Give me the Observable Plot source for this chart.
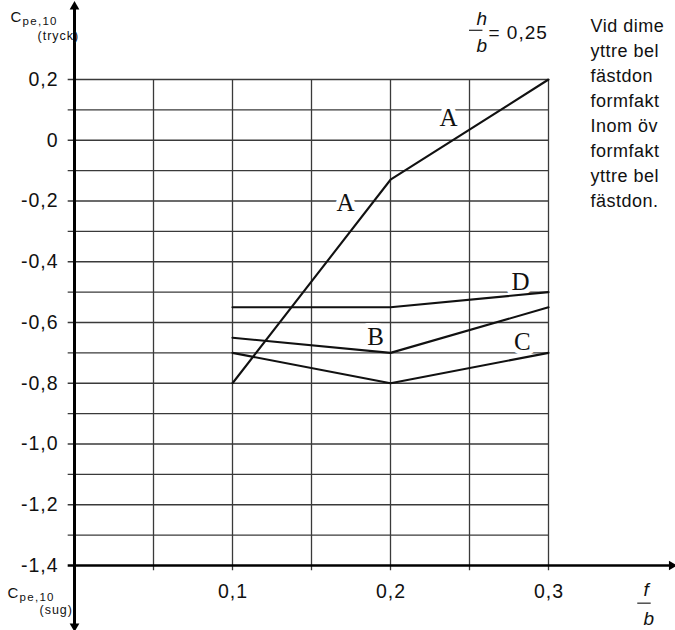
<!DOCTYPE html>
<html><head><meta charset="utf-8">
<script src="https://cdn.jsdelivr.net/npm/d3@7"></script>
<script src="https://cdn.jsdelivr.net/npm/@observablehq/plot@0.6"></script>
<style>
body{margin:0;background:#fff}
#chart svg{background:#fff}
</style>
</head><body><div id="chart"></div>
<script>
// f/b values
const fb = [0.1, 0.2, 0.3];
// Cpe,10 values per curve
const curveA = [-0.80, -0.13, 0.20];
const curveB = [-0.65, -0.70, -0.55];
const curveC = [-0.70, -0.80, -0.70];
const curveD = [-0.55, -0.55, -0.50];
const curveNames = ["A", "B", "C", "D"];

const yTicks = [0.2, 0, -0.2, -0.4, -0.6, -0.8, -1.0, -1.2, -1.4];
const yTickLabels = ["0,2", "0", "-0,2", "-0,4", "-0,6", "-0,8", "-1,0", "-1,2", "-1,4"];
const xTicks = [0.1, 0.2, 0.3];
const xTickLabels = ["0,1", "0,2", "0,3"];
const yGrid = [0.2, 0.1, 0, -0.1, -0.2, -0.3, -0.4, -0.5, -0.6, -0.7, -0.8, -0.9, -1.0, -1.1, -1.2, -1.3];
const xGrid = [0.05, 0.1, 0.15, 0.2, 0.25, 0.3];

// curve label annotations
const labelText = ["A", "A", "B", "C", "D"];
const labelX = [0.2367, 0.1715, 0.1905, 0.2835, 0.2823];
const labelY = [0.072, -0.207, -0.649, -0.665, -0.4675];

const noteLines = ["Vid dime", "yttre bel", "fästdon", "formfakt", "Inom öv", "formfakt", "yttre bel", "fästdon."];
const ratioText = "= 0,25";

// axis extents
const xMin = 0, xMax = 0.3, yMin = -1.4, yMax = 0.2;
const xArrowEnd = 0.378, yArrowTop = 0.44, yArrowBottom = -1.6;
// fraction bars (h/b above the grid, f/b beside the x axis)
const hbBar = {x1: 0.2500, x2: 0.2585, y: 0.362};
const fbBar = {x1: 0.3565, x2: 0.3650, y: -1.524};

const rows = [];
[curveA, curveB, curveC, curveD].forEach((s, k) => s.forEach((v, i) => rows.push({fb: fb[i], value: v, curve: curveNames[k]})));
const labels = labelText.map((t, i) => ({t, x: labelX[i], y: labelY[i]}));

const ML = 74, MT = 79;
const sans = "'Liberation Sans', Arial, sans-serif";
const serif = "'Liberation Serif', 'Times New Roman', serif";
function at(px, py, text, o = {}) {
  return Plot.text([text], {frameAnchor: "top-left", lineAnchor: "middle", dx: px - ML, dy: py - MT, fontFamily: sans, fill: "#111", ...o});
}

const plot = Plot.plot({
  width: 675, height: 630,
  marginLeft: ML, marginRight: 127, marginTop: MT, marginBottom: 65,
  x: {domain: [xMin, xMax]},
  y: {domain: [yMin, yMax]},
  axis: null,
  marks: [
    Plot.ruleY(yGrid, {x1: -0.004, x2: xMax, stroke: "#3a3a3a", strokeWidth: 1.3}),
    Plot.ruleX(xGrid, {y1: yMin - 0.017, y2: yMax, stroke: "#3a3a3a", strokeWidth: 1.3}),
    Plot.text(labels, {x: "x", y: "y", text: "t", fontFamily: serif, fontSize: 25, fill: "#111", stroke: "white", strokeWidth: 10, paintOrder: "stroke"}),
    Plot.line(rows, {x: "fb", y: "value", z: "curve", stroke: "#111", strokeWidth: 2.1}),
    // axes
    Plot.ruleY([yMin], {x1: -0.004, x2: xArrowEnd, stroke: "#000", strokeWidth: 2.6}),
    Plot.ruleX([xMin], {y1: yArrowBottom, y2: yArrowTop, stroke: "#000", strokeWidth: 3}),
    Plot.dot([0], {x: xMin, y: yArrowTop, symbol: "triangle", r: 3.6, fill: "#000", rotate: 0}),
    Plot.dot([0], {x: xMin, y: yArrowBottom, symbol: "triangle", r: 3.6, fill: "#000", rotate: 180}),
    Plot.dot([0], {x: xArrowEnd, y: yMin, symbol: "triangle", r: 3.6, fill: "#000", rotate: 90}),
    // tick labels
    Plot.text(yTicks, {x: xMin, y: d => d, text: (d, i) => yTickLabels[i], dx: -16, textAnchor: "end", fontFamily: sans, fontSize: 19.5, fill: "#111"}),
    Plot.text(xTicks, {x: d => d, y: yMin, text: (d, i) => xTickLabels[i], dx: 0.5, dy: 26, fontFamily: sans, fontSize: 19.5, fill: "#111"}),
    // axis titles
    at(10, 17, "C", {textAnchor: "start", fontSize: 15}),
    at(22, 21, "pe,10", {textAnchor: "start", fontSize: 11.5}),
    at(37, 35, "(tryck)", {fontSize: 12.5}),
    at(7, 593, "C", {textAnchor: "start", fontSize: 15}),
    at(19, 597, "pe,10", {textAnchor: "start", fontSize: 11.5}),
    at(39, 609, "(sug)", {fontSize: 12.5}),
    // f/b
    at(643, 589, "f", {fontSize: 19, fontStyle: "italic"}),
    Plot.ruleY([fbBar.y], {x1: fbBar.x1, x2: fbBar.x2, stroke: "#222", strokeWidth: 1.2}),
    at(643, 618, "b", {fontSize: 19, fontStyle: "italic"}),
    // h/b = 0,25
    at(476, 18, "h", {fontSize: 19, fontStyle: "italic"}),
    Plot.ruleY([hbBar.y], {x1: hbBar.x1, x2: hbBar.x2, stroke: "#222", strokeWidth: 1.2}),
    at(476, 45, "b", {fontSize: 19, fontStyle: "italic"}),
    at(488, 32, ratioText, {textAnchor: "start", fontSize: 19}),
    // side note
    at(590, 111, noteLines.join("\n"), {textAnchor: "start", fontSize: 18, lineHeight: 25 / 18})
  ]
});
// the scanned original uses a slightly wide sans face: add letter spacing
d3.select(plot).selectAll("text").each(function () {
  const t = this.textContent;
  if (this.querySelector("tspan")) this.style.letterSpacing = "0.5px";
  else if (yTickLabels.includes(t) || xTickLabels.includes(t) || t === ratioText) this.style.letterSpacing = "1px";
  else if (t === "pe,10") this.style.letterSpacing = "1.3px";
  else if (t === "(tryck)" || t === "(sug)") this.style.letterSpacing = "1px";
});
document.getElementById("chart").appendChild(plot);
</script>
</body></html>
